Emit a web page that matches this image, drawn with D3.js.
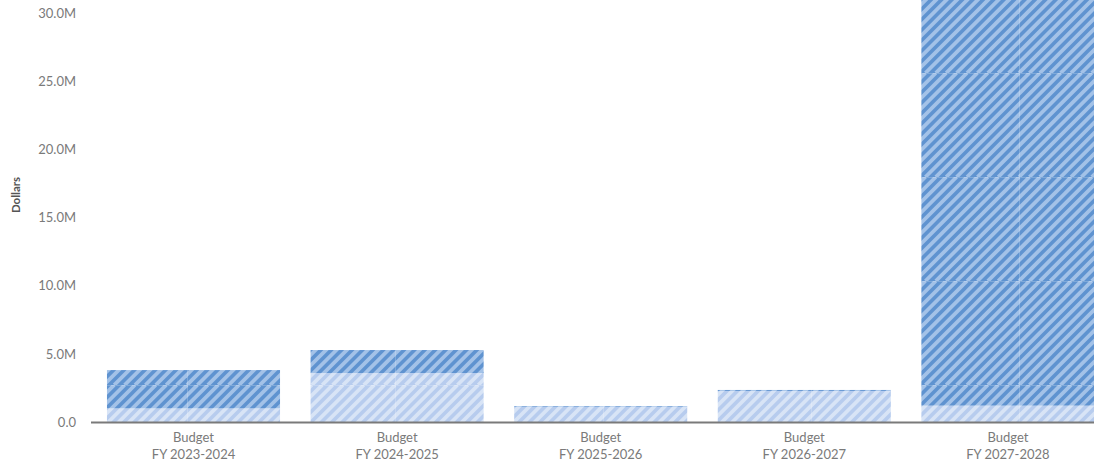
<!DOCTYPE html>
<html>
<head>
<meta charset="utf-8">
<script src="https://cdn.jsdelivr.net/npm/d3@7"></script>
<style>
  html, body { margin: 0; padding: 0; background: #fff; }
  svg { display: block; }
  text { font-family: Lato, "Open Sans", sans-serif; }
</style>
</head>
<body>
<svg id="chart" width="1094" height="465"></svg>
<script>
// ---- data ----
const categories = ["Budget|FY 2023-2024", "Budget|FY 2024-2025", "Budget|FY 2025-2026", "Budget|FY 2026-2027", "Budget|FY 2027-2028"];
const seriesNames = ["Light", "Dark"];
const lightValues = [1.0e6, 3.59e6, 1.12e6, 2.28e6, 1.2e6];
const darkValues  = [2.81e6, 1.69e6, 0.05e6, 0.07e6, 31.8e6];
const yTicks = [0, 5e6, 10e6, 15e6, 20e6, 25e6, 30e6];
const yAxisTitle = "Dollars";

const W = 1094, H = 465;
const svg = d3.select("#chart");

const x = d3.scaleBand().domain(categories).range([91.7, 1109.7]).paddingInner(0.15).paddingOuter(0.075);
const y = d3.scaleLinear().domain([0, 30e6]).range([422, 13]);

const rows = categories.map((c, i) => ({ cat: c, Light: lightValues[i], Dark: darkValues[i] }));
const stacked = d3.stack().keys(seriesNames)(rows);

// patterns
const defs = svg.append("defs");
const patternSpecs = [
  { id: "pat-Light", base: "#b7ccee", stripe: "#d8e4f6" },
  { id: "pat-Dark", base: "#5f93d0", stripe: "#a3c2e8" }
];
const TW = 208, TH = 104, P = 10.4;
patternSpecs.forEach(s => {
  const p = defs.append("pattern").attr("id", s.id)
    .attr("patternUnits", "userSpaceOnUse")
    .attr("x", -21).attr("y", -31)
    .attr("width", TW).attr("height", TH);
  p.append("rect").attr("width", TW).attr("height", TH).attr("fill", s.base);
  const g = p.append("g").attr("stroke", s.stripe).attr("stroke-width", 3.8);
  for (let k = -TH; k <= TW + TH; k += P) {
    g.append("line").attr("x1", k).attr("y1", TH).attr("x2", k + TH).attr("y2", 0);
  }
  // faint tile seams
  p.append("line").attr("x1", 0).attr("y1", 0.5).attr("x2", TW).attr("y2", 0.5)
    .attr("stroke", "#ffffff").attr("stroke-opacity", 0.2).attr("stroke-width", 1);
  p.append("line").attr("x1", 0.5).attr("y1", 0).attr("x2", 0.5).attr("y2", TH)
    .attr("stroke", "#ffffff").attr("stroke-opacity", 0.2).attr("stroke-width", 1);
});

defs.append("clipPath").attr("id", "plotClip")
  .append("rect").attr("x", 0).attr("y", 0).attr("width", W).attr("height", 422);

// bars
const barsG = svg.append("g").attr("clip-path", "url(#plotClip)");
stacked.forEach(layer => {
  barsG.append("g").selectAll("rect").data(layer).join("rect")
    .attr("x", d => x(d.data.cat))
    .attr("width", x.bandwidth())
    .attr("y", d => y(d[1]))
    .attr("height", d => Math.max(0, y(d[0]) - y(d[1])))
    .attr("fill", `url(#pat-${layer.key})`);
});

// y axis (labels only)
const yAxis = d3.axisLeft(y).tickValues(yTicks).tickSize(0).tickPadding(0)
  .tickFormat(d => d === 0 ? "0.0" : (d / 1e6).toFixed(1) + "M");
const ya = svg.append("g").attr("transform", "translate(76,0)").call(yAxis);
ya.select(".domain").remove();
ya.selectAll("text").attr("fill", "#7a7a7a").attr("font-size", 13)
  .attr("font-family", "Lato, 'Open Sans', sans-serif");

// y title
svg.append("text")
  .attr("transform", "translate(19.5,195) rotate(-90)")
  .attr("text-anchor", "middle")
  .attr("font-size", 11.5).attr("font-weight", "bold").attr("fill", "#555")
  .text(yAxisTitle);

// x axis
const xAxis = d3.axisBottom(x).tickSize(0).tickPadding(0).tickFormat("");
const xa = svg.append("g").attr("transform", "translate(0,422.5)").call(xAxis);
xa.select(".domain").remove();
svg.append("line").attr("x1", 91).attr("x2", W).attr("y1", 422.5).attr("y2", 422.5)
  .attr("stroke", "#7a7a7a").attr("stroke-width", 2);

xa.selectAll(".tick").each(function(d) {
  const parts = d.split("|");
  const t = d3.select(this).append("text").attr("text-anchor", "middle")
    .attr("fill", "#7a7a7a").attr("font-size", 13)
    .attr("font-family", "Lato, 'Open Sans', sans-serif");
  t.append("tspan").attr("x", 0).attr("y", 19.5).text(parts[0]);
  t.append("tspan").attr("x", 0).attr("y", 36.5).text(parts[1]);
});
</script>
</body>
</html>
